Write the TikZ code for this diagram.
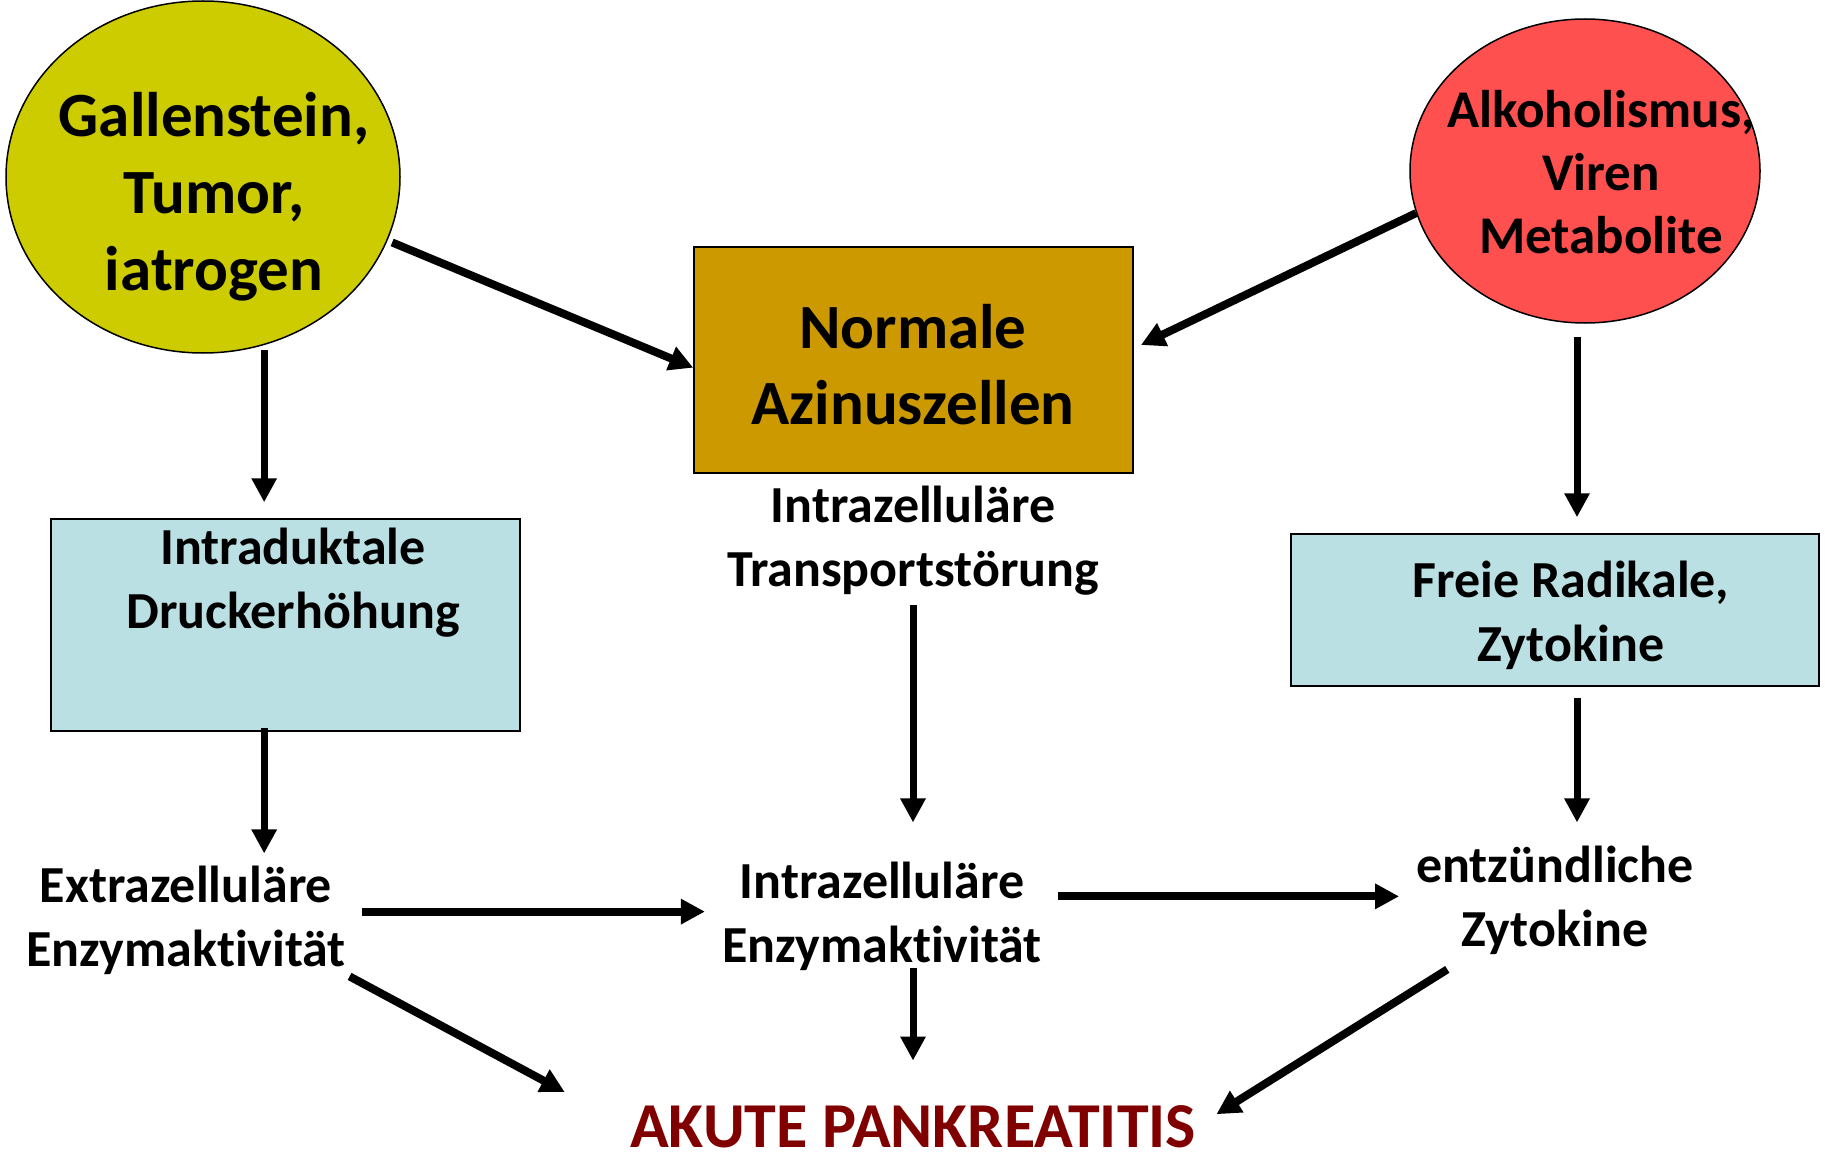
\documentclass[tikz,border=0pt]{standalone}
\usepackage{fontspec}
\setmainfont{Carlito}[Ligatures=NoCommon]
\usetikzlibrary{arrows.meta}
\usetikzlibrary{calc}
\usetikzlibrary{shapes.geometric}

\definecolor{PKyellow}{HTML}{CCCC00}
\definecolor{PKred}{HTML}{FF5050}
\definecolor{PKorange}{HTML}{CC9900}
\definecolor{PKblue}{HTML}{BBE0E3}
\definecolor{PKdarkred}{HTML}{800000}

\newcommand{\PKCause}[5]{
  \node [cause, fill=#3, minimum width=#4, minimum height=#5] (#1) at #2 {};
}
\newcommand{\PKBox}[5]{
  \node [stagebox, fill=#3, minimum width=#4, minimum height=#5] (#1) at #2 {};
}
\newcommand{\PKLabel}[4]{
  \node [#3] (#1) at #2 {#4};
}

\begin{document}
\begin{tikzpicture}[x=1pt,y=-1pt,
  cause/.style={draw, ellipse, line width=1.5pt, inner sep=0pt},
  stagebox/.style={draw, rectangle, line width=1.5pt, inner sep=0pt},
  bigtext/.style={align=center, inner sep=0pt, font=\fontsize{63}{77}\selectfont\bfseries},
  redtext/.style={align=center, inner sep=0pt, font=\fontsize{53}{63}\selectfont\bfseries},
  boxtext/.style={align=center, inner sep=0pt, font=\fontsize{63}{76}\selectfont\bfseries},
  steptext/.style={align=center, inner sep=0pt, font=\fontsize{52}{64}\selectfont\bfseries},
  endtext/.style={inner sep=0pt, text=PKdarkred, font=\fontsize{64}{76}\selectfont\bfseries},
  arr/.style={line width=7pt, -{Triangle[length=24pt,width=24pt]}}]
\useasboundingbox (0,0) rectangle (1825,1161);

% causes
\PKCause{gal}{(203,177)}{PKyellow}{394pt}{352pt}
\PKLabel{galtxt}{(214,197)}{bigtext}{Gallenstein,\\Tumor,\\iatrogen}
\PKCause{red}{(1585,171)}{PKred}{350pt}{304pt}
\PKLabel{redtxt}{(1601,172)}{redtext}{Alkoholismus,\\Viren\\Metabolite}

% cells
\PKBox{azi}{(913.5,360)}{PKorange}{439pt}{226pt}
\PKLabel{azitxt}{(913,365)}{boxtext}{Normale\\Azinuszellen}
\PKLabel{tra}{(913,541)}{steptext}{Intrazelluläre\\Transportstörung}

% middle row
\PKBox{idu}{(285.5,625)}{PKblue}{469pt}{212pt}
\PKLabel{idutxt}{(293,583)}{steptext}{Intraduktale\\Druckerhöhung}
\PKBox{frb}{(1555,610)}{PKblue}{528pt}{152pt}
\PKLabel{frbtxt}{(1571,615)}{steptext}{Freie Radikale,\\Zytokine}

% lower row
\PKLabel{ext}{(186,920)}{steptext}{Extrazelluläre\\Enzymaktivität}
\PKLabel{iza}{(882,916)}{steptext}{Intrazelluläre\\Enzymaktivität}
\PKLabel{ent}{(1555,900)}{steptext}{entzündliche\\Zytokine}
\PKLabel{aku}{(913,1127)}{endtext}{AKUTE PANKREATITIS}

% arrows
\draw [arr, line width=8pt, shorten <=5pt] (gal.-19) -- (azi.182);
\draw [arr, line width=8pt, shorten >=8pt] (red.-166) -- (azi.3);
\draw [arr, shorten <=5pt, shorten >=16pt] (gal.-70) -- (gal.-70 |- idu.north);
\draw [arr, shorten <=13pt, shorten >=16pt] (red.-93) -- (red.-93 |- frb.north);
\draw [arr, shorten <=-4pt, shorten >=12pt] (gal.-70 |- idu.south) -- (gal.-70 |- ext.north);
\draw [arr, shorten <=9pt, shorten >=39pt] (tra.south) -- (tra.south |- iza.north);
\draw [arr, shorten <=11pt, shorten >=23pt] (red.-93 |- frb.south) -- (red.-93 |- ent.north);
\draw [arr, line width=8pt, shorten <=16pt, shorten >=17pt] (ext.3) -- (ext.3 -| iza.west);
\draw [arr, line width=8pt, shorten <=16pt, shorten >=17pt] (iza.7) -- (iza.7 -| ent.west);
\draw [arr, line width=8pt, shorten <=4pt, shorten >=74pt] (ext.south east) -- (aku.west);
\draw [arr, shorten <=-3pt, shorten >=45pt] (tra.south |- iza.south) -- (tra.south |- aku.north);
\draw [arr, line width=8pt, shorten <=28pt, shorten >=24pt] (ent.-147) -- (aku.east);
\end{tikzpicture}
\end{document}
